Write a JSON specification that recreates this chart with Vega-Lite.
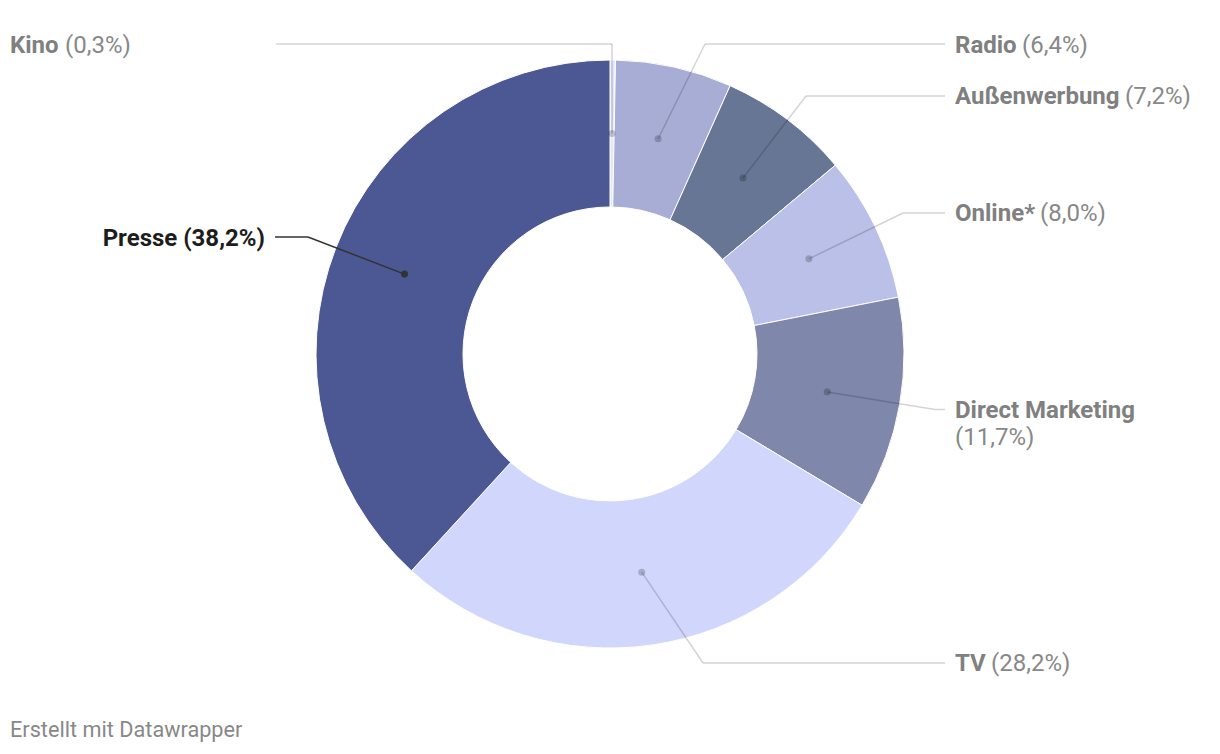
{
  "$schema": "https://vega.github.io/schema/vega-lite/v6.json",
  "width": 1220,
  "height": 708,
  "padding": 0,
  "background": "#ffffff",
  "config": {"view": {"stroke": null}, "font": "Roboto"},
  "title": {
    "text": "Erstellt mit Datawrapper",
    "orient": "bottom",
    "anchor": "start",
    "frame": "group",
    "font": "Roboto",
    "fontSize": 21.7,
    "fontWeight": "normal",
    "color": "#888888",
    "baseline": "alphabetic",
    "offset": 29,
    "dx": 10
  },
  "datasets": {
    "shares": [
      {"idx": 1, "category": "Kino", "share": 0.3},
      {"idx": 2, "category": "Radio", "share": 6.4},
      {"idx": 3, "category": "Außenwerbung", "share": 7.2},
      {"idx": 4, "category": "Online*", "share": 8.0},
      {"idx": 5, "category": "Direct Marketing", "share": 11.7},
      {"idx": 6, "category": "TV", "share": 28.2},
      {"idx": 7, "category": "Presse", "share": 38.2}
    ],
    "layout": [
      {"category": "Kino", "ex": 0.0068, "ey": 1.0544, "lx": -1.1361, "ly": 1.0544, "nx": -2.0408, "ny": 1.0544, "px": -1.8537, "py": 1.0544},
      {"category": "Radio", "ex": 0.3231, "ey": 1.0544, "lx": 1.1395, "ly": 1.0544, "nx": 1.1735, "ny": 1.0544, "px": 1.4014, "py": 1.0544},
      {"category": "Außenwerbung", "ex": 0.6667, "ey": 0.8776, "lx": 1.1395, "ly": 0.8776, "nx": 1.1735, "ny": 0.8776, "px": 1.7517, "py": 0.8776},
      {"category": "Online*", "ex": 0.9966, "ey": 0.4796, "lx": 1.1395, "ly": 0.4796, "nx": 1.1735, "ny": 0.4796, "px": 1.4626, "py": 0.4796},
      {"category": "Direct Marketing", "ex": 1.1054, "ey": -0.1888, "lx": 1.1395, "ly": -0.1888, "nx": 1.1735, "ny": -0.1888, "px": 1.1735, "py": -0.2806},
      {"category": "TV", "ex": 0.3163, "ey": -1.051, "lx": 1.1395, "ly": -1.051, "nx": 1.1735, "ny": -1.051, "px": 1.2959, "py": -1.051},
      {"category": "Presse", "ex": -1.0272, "ey": 0.398, "lx": -1.1395, "ly": 0.398, "nx": -1.1735, "ny": 0.3946, "px": -1.1735, "py": 0.3946}
    ]
  },
  "data": {"name": "shares"},
  "transform": [
    {"window": [{"op": "sum", "field": "share", "as": "cum"}], "sort": [{"field": "idx"}], "frame": [null, 0]},
    {"calculate": "(datum.cum - datum.share / 2) / 100 * 2 * PI", "as": "mid"},
    {"calculate": "0.75 * sin(datum.mid)", "as": "dotx"},
    {"calculate": "0.75 * cos(datum.mid)", "as": "doty"},
    {"lookup": "category", "from": {"data": {"name": "layout"}, "key": "category", "fields": ["ex", "ey", "lx", "ly", "nx", "ny", "px", "py"]}},
    {"calculate": "'(' + replace(format(datum.share, '.1f'), '.', ',') + '%)'", "as": "pct"},
    {"calculate": "datum.category + ' ' + datum.pct", "as": "fullLabel"}
  ],
  "layer": [
    {
      "mark": {"type": "arc", "innerRadius": 147, "outerRadius": 294, "stroke": "#ffffff", "strokeWidth": 1},
      "encoding": {
        "theta": {"field": "share", "type": "quantitative", "stack": true},
        "order": {"field": "idx", "type": "quantitative"},
        "color": {
          "field": "category",
          "type": "nominal",
          "scale": {
            "domain": ["Kino", "Radio", "Außenwerbung", "Online*", "Direct Marketing", "TV", "Presse"],
            "range": ["#e3e6ff", "#a8add5", "#667694", "#bac0e8", "#7f87ab", "#d1d6fd", "#4c5894"]
          },
          "legend": null
        }
      }
    },
    {
      "mark": {"type": "rule", "strokeWidth": 1.5},
      "encoding": {
        "x": {"field": "dotx", "type": "quantitative", "scale": {"domain": [-2.07483, 2.07483], "nice": false, "zero": false}, "axis": null},
        "y": {"field": "doty", "type": "quantitative", "scale": {"domain": [-1.20408, 1.20408], "nice": false, "zero": false}, "axis": null},
        "x2": {"field": "ex"},
        "y2": {"field": "ey"},
        "color": {"condition": {"test": "datum.category === 'Presse'", "value": "#333333"}, "value": "#000000"},
        "opacity": {"condition": {"test": "datum.category === 'Presse'", "value": 1}, "value": 0.17}
      }
    },
    {
      "mark": {"type": "rule", "strokeWidth": 1.5},
      "encoding": {
        "x": {"field": "ex", "type": "quantitative", "scale": {"domain": [-2.07483, 2.07483], "nice": false, "zero": false}, "axis": null},
        "y": {"field": "ey", "type": "quantitative", "scale": {"domain": [-1.20408, 1.20408], "nice": false, "zero": false}, "axis": null},
        "x2": {"field": "lx"},
        "y2": {"field": "ly"},
        "color": {"condition": {"test": "datum.category === 'Presse'", "value": "#333333"}, "value": "#000000"},
        "opacity": {"condition": {"test": "datum.category === 'Presse'", "value": 1}, "value": 0.17}
      }
    },
    {
      "mark": {"type": "circle", "size": 50},
      "encoding": {
        "x": {"field": "dotx", "type": "quantitative", "scale": {"domain": [-2.07483, 2.07483], "nice": false, "zero": false}, "axis": null},
        "y": {"field": "doty", "type": "quantitative", "scale": {"domain": [-1.20408, 1.20408], "nice": false, "zero": false}, "axis": null},
        "color": {"condition": {"test": "datum.category === 'Presse'", "value": "#333333"}, "value": "#000000"},
        "opacity": {"condition": {"test": "datum.category === 'Presse'", "value": 1}, "value": 0.2}
      }
    },
    {
      "transform": [{"filter": "datum.category !== 'Presse'"}],
      "mark": {"type": "text", "align": "left", "baseline": "alphabetic", "dy": 8.5, "font": "Roboto", "fontSize": 24, "fontWeight": "bold", "color": "#808080"},
      "encoding": {
        "x": {"field": "nx", "type": "quantitative", "scale": {"domain": [-2.07483, 2.07483], "nice": false, "zero": false}, "axis": null},
        "y": {"field": "ny", "type": "quantitative", "scale": {"domain": [-1.20408, 1.20408], "nice": false, "zero": false}, "axis": null},
        "text": {"field": "category", "type": "nominal"}
      }
    },
    {
      "transform": [{"filter": "datum.category !== 'Presse'"}],
      "mark": {"type": "text", "align": "left", "baseline": "alphabetic", "dy": 8.5, "font": "Roboto", "fontSize": 24, "fontWeight": "normal", "color": "#888888"},
      "encoding": {
        "x": {"field": "px", "type": "quantitative", "scale": {"domain": [-2.07483, 2.07483], "nice": false, "zero": false}, "axis": null},
        "y": {"field": "py", "type": "quantitative", "scale": {"domain": [-1.20408, 1.20408], "nice": false, "zero": false}, "axis": null},
        "text": {"field": "pct", "type": "nominal"}
      }
    },
    {
      "transform": [{"filter": "datum.category === 'Presse'"}],
      "mark": {"type": "text", "align": "right", "baseline": "alphabetic", "dy": 8.5, "font": "Roboto", "fontSize": 24, "fontWeight": "bold", "color": "#1d1d1d"},
      "encoding": {
        "x": {"field": "nx", "type": "quantitative", "scale": {"domain": [-2.07483, 2.07483], "nice": false, "zero": false}, "axis": null},
        "y": {"field": "ny", "type": "quantitative", "scale": {"domain": [-1.20408, 1.20408], "nice": false, "zero": false}, "axis": null},
        "text": {"field": "fullLabel", "type": "nominal"}
      }
    }
  ]
}
